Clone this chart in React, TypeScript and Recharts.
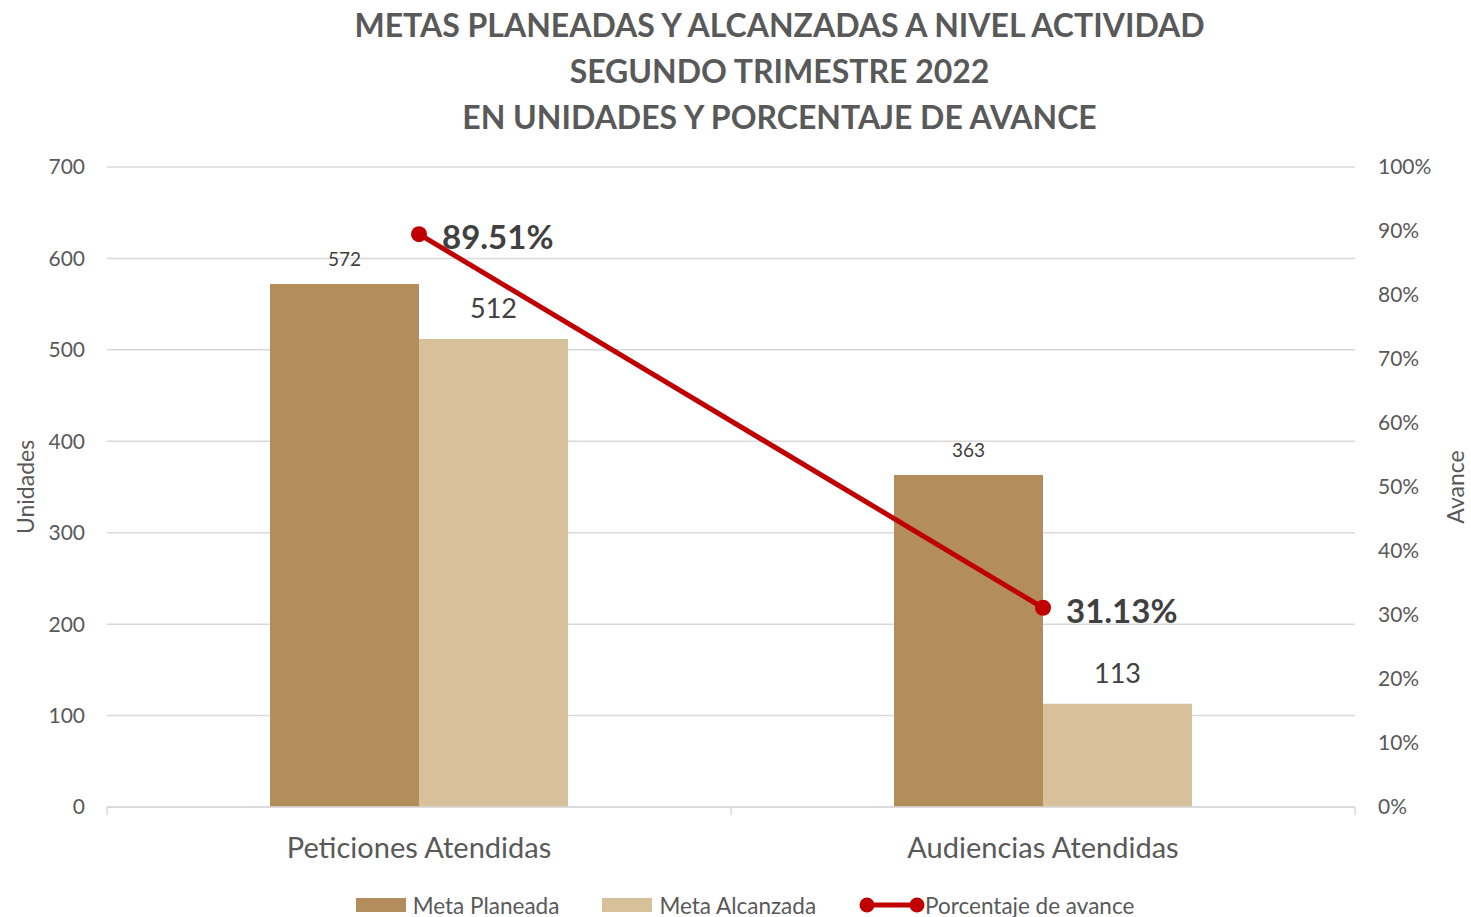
import React from 'react';
import {
    ComposedChart,
    Bar,
    Line,
    XAxis,
    YAxis,
    CartesianGrid,
    LabelList,
    Legend,
} from 'recharts';

const categories = ['Peticiones Atendidas', 'Audiencias Atendidas'];
const metaPlaneada = [572, 363];
const metaAlcanzada = [512, 113];
const avance = [0.8951, 0.3113];

const unitTicks = [0, 100, 200, 300, 400, 500, 600, 700];
const pctTicks = [0, 0.1, 0.2, 0.3, 0.4, 0.5, 0.6, 0.7, 0.8, 0.9, 1];

const titleLines = [
    'METAS PLANEADAS Y ALCANZADAS A NIVEL ACTIVIDAD',
    'SEGUNDO TRIMESTRE 2022',
    'EN UNIDADES Y PORCENTAJE DE AVANCE',
];

const data = categories.map((name, i) => ({
    name,
    planeada: metaPlaneada[i],
    alcanzada: metaAlcanzada[i],
    avance: avance[i],
}));

const FONT = 'Lato, "Open Sans", sans-serif';
const DARK = '#B38D5C';
const LIGHT = '#D6C19B';
const RED = '#C00000';
const GRAY = '#595959';
const GRID = '#D9D9D9';

const W = 1471;
const H = 917;
const M = { top: 167, right: 0, bottom: 0, left: 0 };
const LEFT_W = 107;
const RIGHT_W = 116;
const HALF_BAND = (W - LEFT_W - RIGHT_W) / categories.length / 2;

const CategoryTick = (props: any) => {
    const { x, y, payload, index } = props;
    return (
        <g>
            <line x1={x - HALF_BAND} x2={x - HALF_BAND} y1={y - 31} y2={y - 23} stroke={GRID} strokeWidth={1.5} />
            {index === categories.length - 1 && (
                <line x1={x + HALF_BAND} x2={x + HALF_BAND} y1={y - 31} y2={y - 23} stroke={GRID} strokeWidth={1.5} />
            )}
            <text x={x} y={y + 8} textAnchor="middle" dominantBaseline="central" fontSize={29} fill={GRAY} fontFamily={FONT}>
                {payload.value}
            </text>
        </g>
    );
};

const smallLabel = (props: any) => {
    const { x, y, width, value } = props;
    return (
        <text x={x + width / 2} y={y - 26} textAnchor="middle" dominantBaseline="central" fontSize={19} fill="#404040" fontFamily={FONT}>
            {value}
        </text>
    );
};

const bigLabel = (props: any) => {
    const { x, y, width, value } = props;
    return (
        <text x={x + width / 2} y={y - 31} textAnchor="middle" dominantBaseline="central" fontSize={27} fill="#404040" fontFamily={FONT}>
            {value}
        </text>
    );
};

const pctLabel = (props: any) => {
    const { x, y, value } = props;
    return (
        <text x={x + 23} y={y + 2} textAnchor="start" dominantBaseline="central" fontSize={33} fontWeight="bold" fill="#404040" fontFamily={FONT}>
            {(value * 100).toFixed(2)}%
        </text>
    );
};

const legendItems = [
    { label: 'Meta Planeada', color: DARK, type: 'rect' },
    { label: 'Meta Alcanzada', color: LIGHT, type: 'rect' },
    { label: 'Porcentaje de avance', color: RED, type: 'line' },
];

const renderLegend = () => (
    <div style={{ display: 'flex', justifyContent: 'center', alignItems: 'center', height: 24, fontFamily: FONT, fontSize: 22.5, color: GRAY, paddingLeft: 62 }}>
        {legendItems.map((it) => (
            <div key={it.label} style={{ display: 'flex', alignItems: 'center', marginRight: 43 }}>
                {it.type === 'rect' ? (
                    <span style={{ display: 'inline-block', width: 50, height: 14, background: it.color, marginRight: 7 }} />
                ) : (
                    <svg width={66} height={20} style={{ marginRight: 0 }}>
                        <line x1={8} x2={58} y1={10} y2={10} stroke={it.color} strokeWidth={5} />
                        <circle cx={8} cy={10} r={7.5} fill={it.color} />
                        <circle cx={58} cy={10} r={7.5} fill={it.color} />
                    </svg>
                )}
                <span>{it.label}</span>
            </div>
        ))}
    </div>
);

export default function App() {
    return (
        <div style={{ position: 'absolute', left: 0, top: 0, width: W, height: H, background: '#fff', fontFamily: FONT }}>
            <div style={{ position: 'absolute', left: 0, top: 2, width: W, textAlign: 'center', paddingLeft: 88, boxSizing: 'border-box' }}>
                {titleLines.map((t) => (
                    <div key={t} style={{ fontSize: 32, fontWeight: 'bold', color: GRAY, lineHeight: '46px' }}>
                        {t}
                    </div>
                ))}
            </div>
            <ComposedChart width={W} height={H} data={data} margin={M} barGap={0} style={{ position: 'absolute', left: 0, top: 0 }}>
                <CartesianGrid vertical={false} stroke={GRID} strokeWidth={1.5} yAxisId="left" />
                <XAxis
                    dataKey="name"
                    height={86}
                    tick={<CategoryTick />}
                    tickLine={false}
                    tickSize={8}
                    tickMargin={23}
                    axisLine={{ stroke: GRID, strokeWidth: 1.5 }}
                    interval={0}
                />
                <YAxis
                    yAxisId="left"
                    width={LEFT_W}
                    domain={[0, 700]}
                    ticks={unitTicks}
                    axisLine={false}
                    tickLine={false}
                    tickSize={0}
                    tickMargin={22}
                    tick={{ fontSize: 21, fill: GRAY, fontFamily: FONT }}
                    label={{
                        content: () => (
                            <text
                                x={25}
                                y={487}
                                transform="rotate(-90 25 487)"
                                textAnchor="middle"
                                dominantBaseline="central"
                                fontSize={23}
                                fill={GRAY}
                                fontFamily={FONT}
                            >
                                Unidades
                            </text>
                        ),
                    }}
                />
                <YAxis
                    yAxisId="right"
                    orientation="right"
                    width={RIGHT_W}
                    domain={[0, 1]}
                    ticks={pctTicks}
                    axisLine={false}
                    tickLine={false}
                    tickSize={0}
                    tickMargin={23}
                    tickFormatter={(v: number) => `${Math.round(v * 100)}%`}
                    tick={{ fontSize: 21, fill: GRAY, fontFamily: FONT, textAnchor: 'start' }}
                    label={{
                        content: () => (
                            <text
                                x={1455}
                                y={487}
                                transform="rotate(-90 1455 487)"
                                textAnchor="middle"
                                dominantBaseline="central"
                                fontSize={23}
                                fill={GRAY}
                                fontFamily={FONT}
                            >
                                Avance
                            </text>
                        ),
                    }}
                />
                <Legend verticalAlign="bottom" content={renderLegend} />
                <Bar yAxisId="left" dataKey="planeada" name="Meta Planeada" fill={DARK} barSize={149} isAnimationActive={false}>
                    <LabelList dataKey="planeada" content={smallLabel} />
                </Bar>
                <Bar yAxisId="left" dataKey="alcanzada" name="Meta Alcanzada" fill={LIGHT} barSize={149} isAnimationActive={false}>
                    <LabelList dataKey="alcanzada" content={bigLabel} />
                </Bar>
                <Line
                    yAxisId="right"
                    dataKey="avance"
                    name="Porcentaje de avance"
                    stroke={RED}
                    strokeWidth={5}
                    dot={{ r: 8, fill: RED, stroke: RED, strokeWidth: 0 }}
                    activeDot={false}
                    isAnimationActive={false}
                >
                    <LabelList dataKey="avance" content={pctLabel} />
                </Line>
            </ComposedChart>
        </div>
    );
}
